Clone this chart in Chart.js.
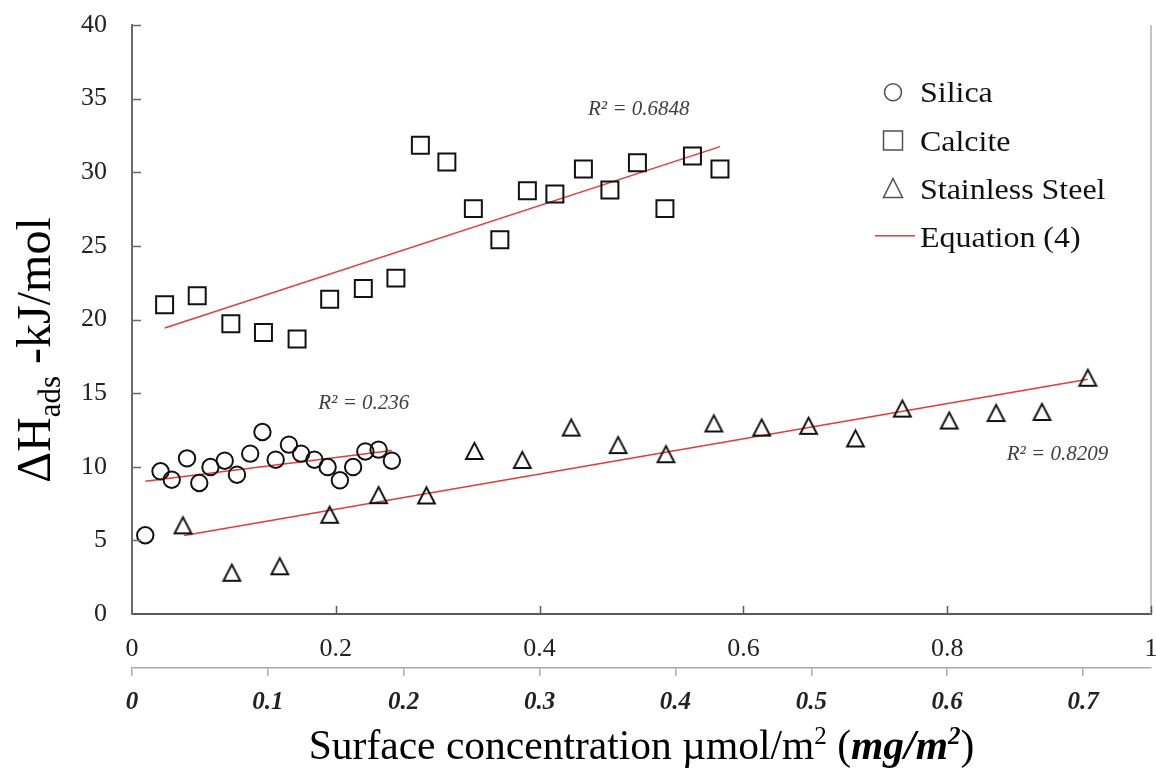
<!DOCTYPE html>
<html><head><meta charset="utf-8">
<script src="https://cdn.jsdelivr.net/npm/chart.js@4/dist/chart.umd.min.js"></script>
<style>html,body{margin:0;padding:0;background:#fff;}canvas{display:block;}</style>
</head><body>
<canvas id="c" width="1156" height="769"></canvas>
<script>
// ---- tick labels ----
const xTicks  = [0, 0.2, 0.4, 0.6, 0.8, 1];          // µmol/m²
const mgTicks = [0, 0.1, 0.2, 0.3, 0.4, 0.5, 0.6, 0.7]; // mg/m²
const yTicks  = [0, 5, 10, 15, 20, 25, 30, 35, 40];

// ---- series ----
const silicaX = [0.013,0.028,0.039,0.054,0.066,0.077,0.091,0.103,0.116,0.128,0.141,0.154,0.166,0.179,0.192,0.204,0.217,0.229,0.242,0.255];
const silicaY = [5.35,9.69,9.12,10.57,8.9,9.98,10.41,9.46,10.89,12.36,10.48,11.5,10.89,10.48,9.98,9.08,9.98,11.04,11.16,10.41];

const calciteX = [0.032,0.064,0.097,0.129,0.162,0.194,0.227,0.259,0.283,0.309,0.335,0.361,0.388,0.415,0.443,0.469,0.496,0.523,0.550,0.577];
const calciteY = [21.0,21.61,19.71,19.12,18.67,21.38,22.1,22.81,31.83,30.7,27.53,25.41,28.75,28.53,30.22,28.8,30.65,27.53,31.1,30.22];

const steelX = [0.050,0.098,0.145,0.194,0.242,0.289,0.336,0.383,0.431,0.477,0.524,0.571,0.618,0.664,0.710,0.756,0.802,0.848,0.893,0.938];
const steelY = [6.02,2.8,3.24,6.74,8.07,8.05,11.07,10.46,12.66,11.47,10.85,12.94,12.66,12.78,11.92,13.95,13.14,13.65,13.72,16.04];

// ---- Equation (4) fit lines (end points) ----
const silicaFitX  = [0.013, 0.255];
const silicaFitY  = [9.01, 11.11];
const calciteFitX = [0.032, 0.577];
const calciteFitY = [19.42, 31.74];
const steelFitX   = [0.051, 0.938];
const steelFitY   = [5.33, 15.95];

const seriesNames = ['Silica', 'Calcite', 'Stainless Steel', 'Equation (4)'];
const r2Texts = ['R² = 0.236', 'R² = 0.6848', 'R² = 0.8209'];

const MG_AXIS_MAX = 0.75;

const SERIF = '"Liberation Serif", "Times New Roman", serif';
const RED = '#e23c3c';

function pts(xs, ys) { return xs.map((x, i) => ({x: x, y: ys[i]})); }

function triCanvas(w, h, lw, color) {
  const c = document.createElement('canvas');
  c.width = Math.round(w + 10); c.height = Math.round(h + 10);
  const g = c.getContext('2d');
  g.strokeStyle = color; g.lineWidth = lw; g.lineJoin = 'miter';
  const cx = c.width / 2, cy = c.height / 2;
  g.beginPath();
  g.moveTo(cx, cy - h / 2);
  g.lineTo(cx + w / 2, cy + h / 2);
  g.lineTo(cx - w / 2, cy + h / 2);
  g.closePath();
  g.stroke();
  return c;
}
const triMarker = triCanvas(16.8, 16.2, 2, '#111');

const fitStyle = {type: 'line', showLine: true, borderColor: RED, borderWidth: 1.5, pointRadius: 0, fill: false};

function stretchText(ctx, t, x, y, sx) {
  ctx.save(); ctx.translate(x, y); ctx.scale(sx, 1); ctx.fillText(t, 0, 0); ctx.restore();
}

const decor = {
  id: 'decor',
  afterDraw(chart) {
    const ctx = chart.ctx, a = chart.chartArea;
    const sx = chart.scales.x, sy = chart.scales.y;
    ctx.save();
    // right frame line
    ctx.strokeStyle = '#c4c4c4'; ctx.lineWidth = 2;
    ctx.beginPath(); ctx.moveTo(a.right, a.top); ctx.lineTo(a.right, a.bottom); ctx.stroke();
    // inward tick marks
    ctx.strokeStyle = '#595959'; ctx.lineWidth = 1.5;
    sx.ticks.forEach(t => {
      const p = Math.round(sx.getPixelForValue(t.value)) + 0.5;
      if (p < a.left + 2) return;
      ctx.beginPath(); ctx.moveTo(p, a.bottom); ctx.lineTo(p, a.bottom - 8); ctx.stroke();
    });
    ctx.strokeStyle = '#6b6b6b';
    sy.ticks.forEach(t => {
      const p = Math.round(sy.getPixelForValue(t.value)) + 0.5;
      if (p > a.bottom - 2) return;
      ctx.beginPath(); ctx.moveTo(a.left, p); ctx.lineTo(a.left + 9, p); ctx.stroke();
    });

    // R² labels
    const r2Pos = [[0.1828, 13.92], [0.4475, 33.89], [0.8584, 10.48]];
    ctx.fillStyle = '#404040';
    ctx.font = 'italic 21px ' + SERIF;
    ctx.textAlign = 'left'; ctx.textBaseline = 'alphabetic';
    r2Texts.forEach((t, i) => {
      ctx.fillText(t, sx.getPixelForValue(r2Pos[i][0]), sy.getPixelForValue(r2Pos[i][1]));
    });

    // legend
    const mx = 893, tx = 920;
    const baselines = [101.7, 150.5, 198.5, 246.7];
    const mcy = [92.3, 140.5, 188, 235.7];
    ctx.strokeStyle = '#505050'; ctx.lineWidth = 1.5;
    ctx.beginPath(); ctx.arc(mx, mcy[0], 8.5, 0, Math.PI * 2); ctx.stroke();
    ctx.strokeRect(mx - 9.5, mcy[1] - 9.5, 19, 19);
    ctx.beginPath(); ctx.moveTo(mx, mcy[2] - 9.5); ctx.lineTo(mx + 9.5, mcy[2] + 9.5); ctx.lineTo(mx - 9.5, mcy[2] + 9.5); ctx.closePath(); ctx.stroke();
    ctx.strokeStyle = RED; ctx.lineWidth = 1.5;
    ctx.beginPath(); ctx.moveTo(875, mcy[3]); ctx.lineTo(915, mcy[3]); ctx.stroke();
    ctx.fillStyle = '#111';
    ctx.font = '30px ' + SERIF;
    seriesNames.forEach((n, i) => stretchText(ctx, n, tx, baselines[i], 1.065));

    // y title with subscript
    ctx.save();
    ctx.translate(50, 350);
    ctx.rotate(-Math.PI / 2);
    const fMain = '48px ' + SERIF, fSub = '31px ' + SERIF;
    const parts = [['ΔH', fMain, 0], ['ads', fSub, 10], [' -kJ/mol', fMain, 0]];
    let W = 0;
    parts.forEach(p => { ctx.font = p[1]; W += ctx.measureText(p[0]).width; });
    let cx = -W / 2;
    ctx.fillStyle = '#000';
    parts.forEach(p => { ctx.font = p[1]; ctx.fillText(p[0], cx, p[2]); cx += ctx.measureText(p[0]).width; });
    ctx.restore();

    // x title with superscripts and bold italic part
    const fR = '41.5px ' + SERIF, fRs = '25px ' + SERIF;
    const fB = 'italic bold 41.5px ' + SERIF, fBs = 'italic bold 25px ' + SERIF;
    const xp = [['Surface concentration µmol/m', fR, 0], ['2', fRs, -15], [' (', fR, 0], ['mg/m', fB, 0], ['2', fBs, -15], [')', fR, 0]];
    let XW = 0;
    xp.forEach(p => { ctx.font = p[1]; XW += ctx.measureText(p[0]).width; });
    let xx = 641.5 - XW / 2;
    ctx.fillStyle = '#000';
    xp.forEach(p => { ctx.font = p[1]; ctx.fillText(p[0], xx, 759 + p[2]); xx += ctx.measureText(p[0]).width; });
    ctx.restore();
  }
};

new Chart(document.getElementById('c'), {
  type: 'scatter',
  data: {
    datasets: [
      {label: seriesNames[0], data: pts(silicaX, silicaY), pointStyle: 'circle', pointRadius: 8.2,
       pointBorderWidth: 2, pointBorderColor: '#111', pointBackgroundColor: 'rgba(0,0,0,0)'},
      {label: seriesNames[1], data: pts(calciteX, calciteY), pointStyle: 'rect', pointRadius: 12,
       pointBorderWidth: 2, pointBorderColor: '#111', pointBackgroundColor: 'rgba(0,0,0,0)'},
      {label: seriesNames[2], data: pts(steelX, steelY), pointStyle: triMarker, pointRadius: 9,
       pointBorderWidth: 2, pointBorderColor: '#111', pointBackgroundColor: 'rgba(0,0,0,0)'},
      Object.assign({label: seriesNames[3], data: pts(silicaFitX, silicaFitY)}, fitStyle),
      Object.assign({label: seriesNames[3], data: pts(calciteFitX, calciteFitY)}, fitStyle),
      Object.assign({label: seriesNames[3], data: pts(steelFitX, steelFitY)}, fitStyle)
    ]
  },
  options: {
    responsive: false,
    animation: false,
    devicePixelRatio: 1,
    events: [],
    layout: {autoPadding: false, padding: {top: 25, right: 5, left: 0, bottom: 0}},
    plugins: {legend: {display: false}, tooltip: {enabled: false}},
    scales: {
      x: {
        type: 'linear', position: 'bottom', min: 0, max: 1, weight: 0,
        afterBuildTicks: s => { s.ticks = xTicks.map(v => ({value: v})); },
        afterFit: s => { s.height = 54; s.paddingLeft = 0; s.paddingRight = 0; },
        grid: {display: false, drawTicks: false},
        border: {display: true, color: '#595959', width: 2},
        ticks: {padding: 20, color: '#222', maxRotation: 0, autoSkip: false,
                font: {family: SERIF, size: 26}, callback: v => String(v)}
      },
      x2: {
        type: 'linear', position: 'bottom', min: 0, max: MG_AXIS_MAX, weight: 1,
        afterBuildTicks: s => { s.ticks = mgTicks.map(v => ({value: v})); },
        afterFit: s => { s.height = 101; s.paddingLeft = 0; s.paddingRight = 0; },
        grid: {display: true, drawOnChartArea: false, drawTicks: true, tickLength: 8, color: '#a8a8a8', lineWidth: 1.5},
        border: {display: true, color: '#a8a8a8', width: 1.5},
        ticks: {padding: 12, color: '#222', maxRotation: 0, autoSkip: false,
                font: {family: SERIF, size: 25, style: 'italic', weight: 'bold'}, callback: v => String(v)}
      },
      y: {
        type: 'linear', position: 'left', min: 0, max: 40,
        afterBuildTicks: s => { s.ticks = yTicks.map(v => ({value: v})); },
        afterFit: s => { s.width = 132; s.paddingTop = 0; s.paddingBottom = 0; },
        grid: {display: false, drawTicks: false},
        border: {display: true, color: '#6b6b6b', width: 2},
        ticks: {padding: 25, color: '#222', font: {family: SERIF, size: 26}, callback: v => String(v)}
      }
    }
  },
  plugins: [decor]
});
</script>
</body></html>
